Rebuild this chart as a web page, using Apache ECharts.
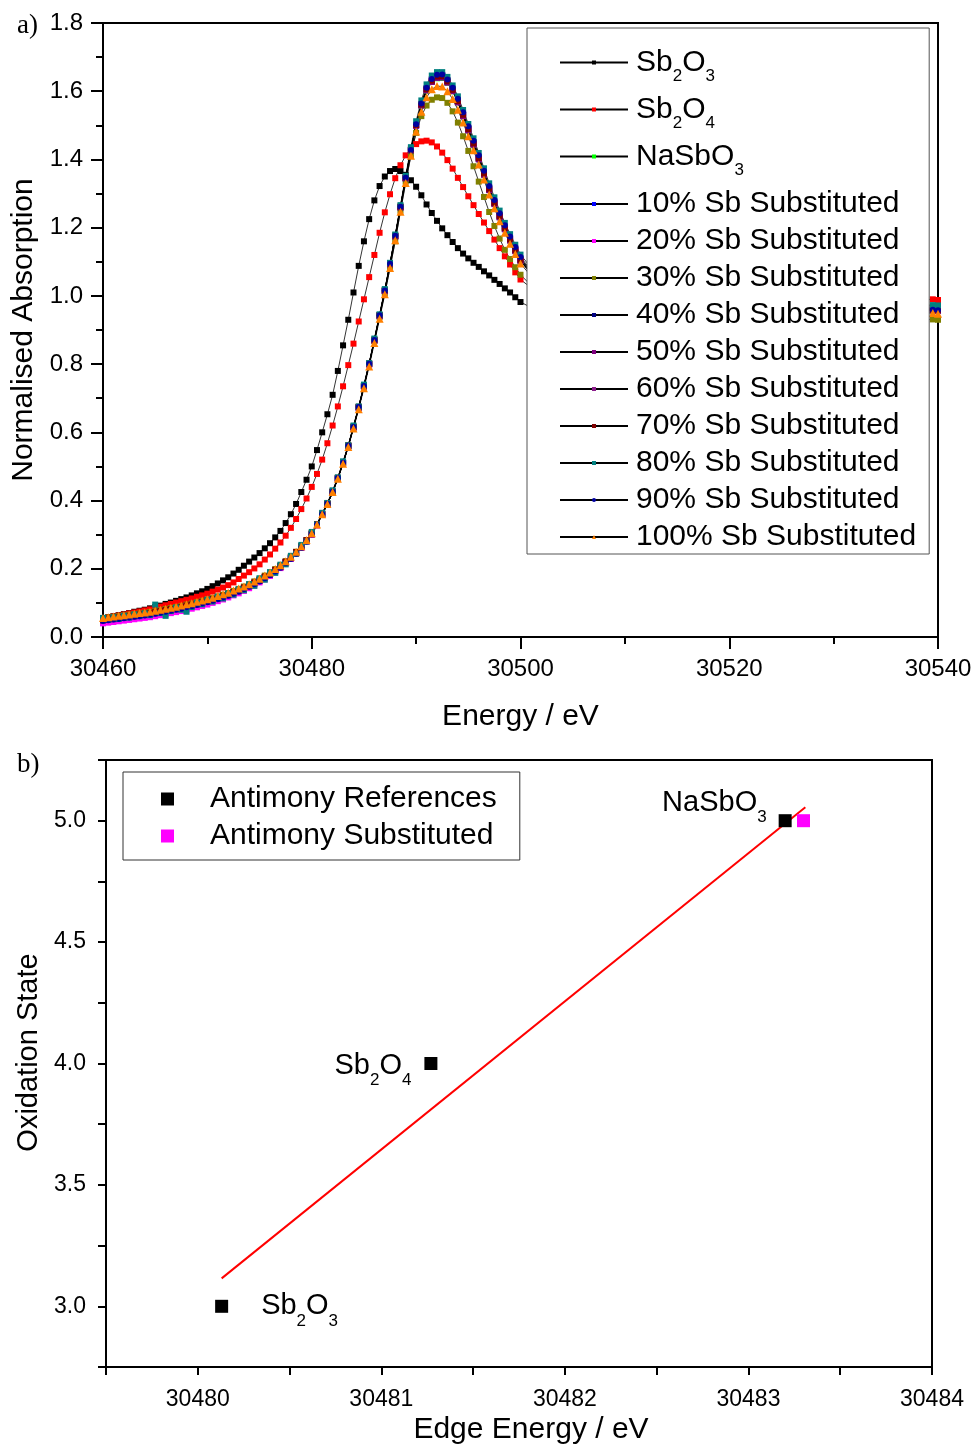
<!DOCTYPE html>
<html><head><meta charset="utf-8">
<script src="https://cdn.jsdelivr.net/npm/echarts@6/dist/echarts.min.js"></script>
<style>html,body{margin:0;padding:0;background:#fff}#c{width:976px;height:1447px}</style>
</head><body><div id="c"></div>
<script>
// ---------- Panel a: XANES spectra ----------
const energy = [
30460,30460.5,30461,30461.5,30462,30462.5,30463,30463.5,30464,30464.5,
30465,30465.5,30466,30466.5,30467,30467.5,30468,30468.5,30469,30469.5,
30470,30470.5,30471,30471.5,30472,30472.5,30473,30473.5,30474,30474.5,
30475,30475.5,30476,30476.5,30477,30477.5,30478,30478.5,30479,30479.5,
30480,30480.5,30481,30481.5,30482,30482.5,30483,30483.5,30484,30484.5,
30485,30485.5,30486,30486.5,30487,30487.5,30488,30488.5,30489,30489.5,
30490,30490.5,30491,30491.5,30492,30492.5,30493,30493.5,30494,30494.5,
30495,30495.5,30496,30496.5,30497,30497.5,30498,30498.5,30499,30499.5,
30500,30502,30505,30510,30515,30520,30525,30530,30535,30539.5,
30540];

const sb2o3 = [
0.055,0.058,0.061,0.064,0.067,0.070,0.074,0.077,0.080,0.084,
0.088,0.092,0.097,0.101,0.106,0.111,0.116,0.122,0.128,0.134,
0.141,0.149,0.157,0.166,0.175,0.186,0.197,0.209,0.221,0.233,
0.246,0.260,0.275,0.292,0.311,0.334,0.360,0.390,0.425,0.461,
0.500,0.548,0.600,0.653,0.710,0.780,0.855,0.930,1.010,1.088,
1.160,1.225,1.280,1.322,1.350,1.366,1.372,1.366,1.355,1.339,
1.320,1.295,1.268,1.243,1.220,1.198,1.178,1.158,1.140,1.124,
1.110,1.097,1.085,1.072,1.060,1.047,1.035,1.022,1.010,0.996,
0.982,0.950,0.920,0.895,0.890,0.895,0.900,0.900,null,null,
null];

const sb2o4 = [
0.055,0.057,0.060,0.063,0.066,0.069,0.072,0.075,0.078,0.081,
0.085,0.089,0.093,0.097,0.101,0.105,0.109,0.113,0.118,0.122,
0.127,0.133,0.139,0.145,0.152,0.160,0.170,0.180,0.190,0.201,
0.213,0.227,0.242,0.259,0.277,0.297,0.320,0.346,0.375,0.406,
0.440,0.478,0.520,0.568,0.620,0.676,0.735,0.797,0.860,0.925,
0.990,1.055,1.120,1.185,1.245,1.298,1.345,1.383,1.412,1.432,
1.445,1.453,1.455,1.450,1.438,1.420,1.398,1.373,1.346,1.319,
1.292,1.266,1.240,1.215,1.190,1.165,1.140,1.116,1.092,1.069,
1.048,1.000,0.960,0.950,0.955,0.965,0.975,0.980,0.985,0.990,
0.988];

const nasbo3 = [
0.051,0.053,0.055,0.057,0.059,0.061,0.063,0.065,0.067,0.069,
0.072,0.075,0.078,0.081,0.084,0.087,0.091,0.094,0.098,0.102,
0.106,0.110,0.115,0.120,0.125,0.131,0.137,0.144,0.151,0.159,
0.167,0.176,0.185,0.196,0.207,0.220,0.233,0.248,0.265,0.283,
0.303,0.330,0.361,0.391,0.426,0.466,0.511,0.561,0.616,0.674,
0.736,0.801,0.871,0.943,1.016,1.094,1.176,1.261,1.346,1.428,
1.500,1.558,1.602,1.627,1.638,1.639,1.625,1.600,1.568,1.528,
1.486,1.444,1.401,1.356,1.311,1.270,1.231,1.196,1.163,1.132,
1.103,1.028,0.973,0.948,0.953,0.963,0.968,0.963,0.958,0.957,
0.956];

const sub10 = [
0.049,0.051,0.053,0.055,0.057,0.059,0.061,0.063,0.065,0.067,
0.070,0.073,0.076,0.079,0.082,0.085,0.089,0.092,0.096,0.100,
0.104,0.108,0.113,0.118,0.123,0.129,0.135,0.142,0.149,0.157,
0.165,0.174,0.183,0.194,0.205,0.218,0.231,0.246,0.263,0.281,
0.301,0.328,0.359,0.389,0.424,0.464,0.509,0.559,0.614,0.672,
0.734,0.799,0.869,0.941,1.014,1.092,1.174,1.259,1.344,1.426,
1.501,1.562,1.608,1.634,1.646,1.647,1.632,1.607,1.574,1.534,
1.492,1.450,1.407,1.362,1.317,1.276,1.237,1.202,1.169,1.138,
1.109,1.033,0.978,0.953,0.957,0.967,0.972,0.967,0.962,0.961,
0.960];

const sub20 = [
0.040,0.042,0.044,0.046,0.048,0.050,0.052,0.054,0.056,0.058,
0.061,0.064,0.067,0.070,0.073,0.076,0.080,0.083,0.087,0.091,
0.095,0.100,0.105,0.110,0.116,0.122,0.128,0.135,0.143,0.151,
0.160,0.169,0.179,0.190,0.202,0.215,0.229,0.244,0.261,0.280,
0.300,0.327,0.358,0.389,0.424,0.464,0.509,0.559,0.614,0.672,
0.734,0.799,0.869,0.941,1.014,1.092,1.174,1.259,1.344,1.426,
1.499,1.559,1.604,1.629,1.641,1.642,1.627,1.602,1.569,1.529,
1.487,1.445,1.402,1.357,1.312,1.271,1.232,1.197,1.164,1.133,
1.104,1.029,0.974,0.949,0.954,0.964,0.969,0.964,0.959,0.958,
0.957];

const sub30 = [
0.055,0.057,0.059,0.061,0.063,0.065,0.067,0.069,0.071,0.073,
0.076,0.079,0.082,0.085,0.088,0.091,0.095,0.098,0.102,0.106,
0.110,0.114,0.119,0.124,0.129,0.135,0.141,0.148,0.155,0.163,
0.171,0.180,0.189,0.199,0.210,0.222,0.235,0.250,0.266,0.284,
0.304,0.330,0.360,0.390,0.425,0.465,0.510,0.560,0.615,0.673,
0.735,0.800,0.868,0.938,1.008,1.083,1.160,1.250,1.335,1.412,
1.478,1.527,1.558,1.575,1.582,1.580,1.566,1.541,1.508,1.468,
1.425,1.380,1.335,1.290,1.246,1.205,1.168,1.135,1.108,1.084,
1.062,1.000,0.955,0.930,0.930,0.935,0.940,0.935,0.932,0.931,
0.930];

const sub40 = [
0.050,0.052,0.054,0.056,0.058,0.060,0.062,0.064,0.066,0.068,
0.071,0.074,0.077,0.080,0.083,0.086,0.090,0.093,0.097,0.101,
0.105,0.109,0.114,0.119,0.124,0.130,0.136,0.143,0.150,0.158,
0.166,0.175,0.184,0.195,0.206,0.219,0.232,0.247,0.264,0.282,
0.302,0.329,0.360,0.390,0.425,0.465,0.510,0.560,0.615,0.673,
0.735,0.800,0.870,0.942,1.015,1.093,1.175,1.260,1.345,1.427,
1.500,1.560,1.605,1.630,1.642,1.643,1.628,1.603,1.570,1.530,
1.488,1.446,1.403,1.358,1.313,1.272,1.233,1.198,1.165,1.134,
1.105,1.030,0.975,0.950,0.955,0.965,0.970,0.965,0.960,0.960,
0.959];

const sub50 = [
0.048,0.050,0.052,0.054,0.056,0.058,0.060,0.062,0.064,0.066,
0.069,0.072,0.075,0.078,0.081,0.084,0.088,0.091,0.095,0.099,
0.103,0.107,0.112,0.117,0.122,0.128,0.134,0.141,0.148,0.156,
0.164,0.173,0.182,0.193,0.204,0.217,0.230,0.245,0.262,0.280,
0.300,0.328,0.359,0.390,0.425,0.465,0.510,0.560,0.615,0.673,
0.735,0.800,0.870,0.942,1.015,1.093,1.175,1.260,1.345,1.427,
1.499,1.558,1.602,1.627,1.639,1.640,1.625,1.600,1.567,1.527,
1.485,1.443,1.400,1.355,1.310,1.269,1.230,1.195,1.162,1.131,
1.102,1.027,0.972,0.948,0.953,0.963,0.968,0.963,0.958,0.957,
0.956];

const sub60 = [
0.051,0.053,0.055,0.057,0.059,0.061,0.063,0.065,0.067,0.069,
0.072,0.075,0.078,0.081,0.084,0.087,0.091,0.094,0.098,0.102,
0.106,0.110,0.115,0.120,0.125,0.131,0.137,0.144,0.151,0.159,
0.167,0.176,0.185,0.196,0.207,0.220,0.233,0.248,0.265,0.283,
0.303,0.330,0.361,0.391,0.426,0.466,0.511,0.561,0.616,0.674,
0.736,0.801,0.871,0.943,1.016,1.094,1.176,1.261,1.346,1.428,
1.502,1.563,1.609,1.635,1.647,1.648,1.633,1.608,1.575,1.535,
1.493,1.451,1.408,1.363,1.318,1.277,1.238,1.203,1.170,1.139,
1.110,1.034,0.979,0.954,0.958,0.968,0.973,0.968,0.963,0.962,
0.961];

const sub70 = [
0.052,0.054,0.056,0.058,0.060,0.062,0.064,0.066,0.068,0.070,
0.073,0.076,0.079,0.082,0.085,0.088,0.092,0.095,0.099,0.103,
0.107,0.111,0.116,0.121,0.126,0.132,0.138,0.145,0.152,0.160,
0.168,0.177,0.186,0.197,0.208,0.221,0.234,0.249,0.266,0.284,
0.304,0.331,0.362,0.392,0.427,0.467,0.512,0.562,0.617,0.675,
0.737,0.802,0.872,0.944,1.017,1.095,1.177,1.262,1.347,1.429,
1.501,1.561,1.606,1.631,1.643,1.644,1.629,1.604,1.571,1.531,
1.489,1.447,1.404,1.359,1.314,1.273,1.234,1.199,1.166,1.135,
1.106,1.031,0.976,0.951,0.956,0.966,0.971,0.966,0.961,0.960,
0.959];

const sub80 = [
0.056,0.050,0.058,0.053,0.062,0.057,0.066,0.061,0.069,0.064,
0.095,0.070,0.062,0.076,0.086,0.080,0.074,0.088,0.100,0.096,
0.109,0.104,0.118,0.113,0.128,0.124,0.140,0.137,0.155,0.150,
0.172,0.168,0.190,0.188,0.212,0.213,0.238,0.244,0.270,0.280,
0.308,0.330,0.364,0.393,0.430,0.468,0.515,0.562,0.620,0.676,
0.740,0.803,0.875,0.946,1.020,1.097,1.180,1.266,1.352,1.436,
1.512,1.573,1.620,1.646,1.656,1.656,1.642,1.617,1.585,1.545,
1.504,1.462,1.419,1.374,1.330,1.289,1.250,1.214,1.181,1.150,
1.121,1.045,0.990,0.965,0.968,0.975,0.978,0.973,0.970,0.973,
0.972];

const sub90 = [
0.047,0.049,0.051,0.053,0.055,0.057,0.059,0.061,0.063,0.065,
0.068,0.071,0.074,0.077,0.080,0.083,0.087,0.090,0.094,0.098,
0.102,0.106,0.111,0.116,0.121,0.127,0.133,0.140,0.147,0.155,
0.163,0.172,0.181,0.192,0.203,0.216,0.229,0.244,0.261,0.280,
0.301,0.329,0.360,0.391,0.426,0.466,0.511,0.561,0.616,0.674,
0.736,0.801,0.871,0.943,1.016,1.094,1.176,1.261,1.346,1.428,
1.503,1.564,1.610,1.636,1.648,1.649,1.634,1.610,1.578,1.538,
1.497,1.455,1.412,1.367,1.322,1.281,1.242,1.207,1.174,1.143,
1.114,1.038,0.983,0.958,0.960,0.968,0.972,0.966,0.961,0.959,
0.958];

const sub100 = [
0.056,0.058,0.060,0.062,0.064,0.066,0.068,0.070,0.072,0.074,
0.077,0.080,0.083,0.086,0.089,0.092,0.096,0.099,0.103,0.107,
0.111,0.115,0.120,0.125,0.130,0.136,0.142,0.148,0.155,0.163,
0.171,0.180,0.189,0.199,0.210,0.222,0.235,0.250,0.266,0.284,
0.304,0.330,0.360,0.390,0.425,0.464,0.508,0.557,0.611,0.668,
0.729,0.793,0.862,0.933,1.005,1.082,1.163,1.247,1.331,1.411,
1.482,1.540,1.582,1.606,1.615,1.614,1.600,1.577,1.546,1.508,
1.468,1.427,1.385,1.341,1.297,1.257,1.219,1.185,1.153,1.123,
1.095,1.022,0.968,0.944,0.948,0.957,0.961,0.955,0.950,0.950,
0.948];

const spectraNames = ['Sb2O3','Sb2O4','NaSbO3','10% Sb Substituted','20% Sb Substituted',
  '30% Sb Substituted','40% Sb Substituted','50% Sb Substituted','60% Sb Substituted',
  '70% Sb Substituted','80% Sb Substituted','90% Sb Substituted','100% Sb Substituted'];
const spectraValues = [sb2o3, sb2o4, nasbo3, sub10, sub20, sub30, sub40, sub50, sub60, sub70, sub80, sub90, sub100];

// ---------- Panel b: edge energy vs oxidation state ----------
const refEdge = [30480.13, 30481.27, 30483.20];
const refOxidation = [3, 4, 5];
const refNames = ['Sb2O3', 'Sb2O4', 'NaSbO3'];
const subEdge = [30483.30];
const subOxidation = [5];
const fitEdge = [30480.13, 30483.31];
const fitOxidation = [3.115, 5.055];

// ---------- styling ----------
const FONT = "'Liberation Sans', Arial, sans-serif";
const colors = ['#000000','#ff0000','#00ff00','#0000ff','#ff00ff','#808000','#000080',
  '#800080','#8b1c8b','#800000','#008080','#0000a0','#ff8000'];
const symbols = ['rect','rect','rect','rect','rect','rect','rect','rect','rect','rect','rect','circle','triangle'];
const symbolSizes = [6,6,6,6,6,6,6,6,6,6,6,6,8];

const richFormula = {
  'Sb2O3': '{f|Sb}{s|2}{m|O}{s|3}',
  'Sb2O4': '{f|Sb}{s|2}{m|O}{s|4}',
  'NaSbO3': '{f|NaSbO}{s|3}'
};

const chart = echarts.init(document.getElementById('c'), null, {renderer: 'canvas'});

const seriesA = spectraNames.map((n, k) => ({
  name: n, type: 'line', xAxisIndex: 0, yAxisIndex: 0,
  data: energy.map((e, i) => [e, spectraValues[k][i]]),
  symbol: symbols[k], symbolSize: symbolSizes[k], showSymbol: true,
  lineStyle: {color: '#000', width: 0.8},
  itemStyle: {color: colors[k]},
  emphasis: {disabled: true}, silent: true
}));

const labelPlacement = [
  {position: 'right', distance: 33, offset: [0, 0]},
  {position: 'left', distance: 13, offset: [0, 2]},
  {position: 'left', distance: 12, offset: [0, -18]}
];
const formulaB = {
  'Sb2O3': '{m|Sb}{s|2}{m|O}{s|3}',
  'Sb2O4': '{m|Sb}{s|2}{m|O}{s|4}',
  'NaSbO3': '{m|NaSbO}{s|3}'
};

const seriesB = [
  {
    name: 'fit', type: 'line', xAxisIndex: 1, yAxisIndex: 1,
    data: fitEdge.map((x, i) => [x, fitOxidation[i]]),
    showSymbol: false, lineStyle: {color: '#ff0000', width: 2}, silent: true, z: 1
  },
  {
    name: 'Antimony References', type: 'scatter', xAxisIndex: 1, yAxisIndex: 1,
    symbol: 'rect', symbolSize: 13, itemStyle: {color: '#000', opacity: 1},
    emphasis: {disabled: true}, silent: true,
    data: refEdge.map((x, i) => ({
      value: [x, refOxidation[i]],
      label: {
        show: true, position: labelPlacement[i].position, distance: labelPlacement[i].distance,
        offset: labelPlacement[i].offset, formatter: formulaB[refNames[i]], color: '#000', opacity: 1,
        rich: {
          m: {fontSize: 29, lineHeight: 30, fontFamily: FONT, color: '#000'},
          s: {fontSize: 17, lineHeight: 17, padding: [30, 0, 0, 0], fontFamily: FONT, color: '#000'}
        }
      }
    })), z: 3
  },
  {
    name: 'Antimony Substituted', type: 'scatter', xAxisIndex: 1, yAxisIndex: 1,
    symbol: 'rect', symbolSize: 13, itemStyle: {color: '#ff00ff', opacity: 1},
    emphasis: {disabled: true}, silent: true,
    data: subEdge.map((x, i) => [x, subOxidation[i]]), z: 3
  }
];

const axisCommon = {
  axisLine: {show: true, onZero: false, lineStyle: {color: '#000', width: 2}},
  splitLine: {show: false},
};

const option = {
  animation: false,
  textStyle: {fontFamily: FONT},
  grid: [
    {left: 103, top: 23, right: 38, bottom: 810, show: true, borderColor: '#000', borderWidth: 2, backgroundColor: 'transparent'},
    {left: 106, top: 760, right: 44, bottom: 80, show: true, borderColor: '#000', borderWidth: 2, backgroundColor: 'transparent'}
  ],
  xAxis: [
    Object.assign({
      type: 'value', gridIndex: 0, min: 30460, max: 30540, interval: 20,
      axisTick: {show: true, inside: false, length: 12, lineStyle: {color: '#000', width: 2}},
      minorTick: {show: true, splitNumber: 2, length: 7, lineStyle: {color: '#000', width: 2}},
      axisLabel: {fontSize: 24, color: '#000', margin: 20, fontFamily: FONT, formatter: v => String(Math.round(v))},
      name: 'Energy / eV', nameLocation: 'middle', nameGap: 65,
      nameTextStyle: {fontSize: 30, color: '#000', fontFamily: FONT}
    }, axisCommon),
    Object.assign({
      type: 'value', gridIndex: 1, min: 30479.5, max: 30484, interval: 0.5,
      axisTick: {show: true, inside: false, length: 8, lineStyle: {color: '#000', width: 2}},
      axisLabel: {fontSize: 23, color: '#000', margin: 21, fontFamily: FONT, showMinLabel: true,
        formatter: v => Math.abs(v - Math.round(v)) < 1e-6 ? String(Math.round(v)) : ''},
      name: 'Edge Energy / eV', nameLocation: 'middle', nameGap: 48,
      nameTextStyle: {fontSize: 30, color: '#000', fontFamily: FONT, padding: [0, 0, 0, 24]}
    }, axisCommon)
  ],
  yAxis: [
    Object.assign({
      type: 'value', gridIndex: 0, min: 0, max: 1.8, interval: 0.2,
      axisTick: {show: true, inside: false, length: 12, lineStyle: {color: '#000', width: 2}},
      minorTick: {show: true, splitNumber: 2, length: 7, lineStyle: {color: '#000', width: 2}},
      axisLabel: {fontSize: 24, color: '#000', margin: 20, fontFamily: FONT, formatter: v => v.toFixed(1)},
      name: 'Normalised Absorption', nameLocation: 'middle', nameGap: 58,
      nameTextStyle: {fontSize: 30, color: '#000', fontFamily: FONT}
    }, axisCommon),
    Object.assign({
      type: 'value', gridIndex: 1, min: 2.75, max: 5.25, interval: 0.25,
      axisTick: {show: true, inside: false, length: 8, lineStyle: {color: '#000', width: 2}},
      axisLabel: {fontSize: 23, color: '#000', margin: 20, fontFamily: FONT,
        formatter: v => Math.abs(v * 2 - Math.round(v * 2)) < 1e-6 ? v.toFixed(1) : ''},
      name: 'Oxidation State', nameLocation: 'middle', nameGap: 62,
      nameTextStyle: {fontSize: 29, color: '#000', fontFamily: FONT, padding: [0, 0, 0, 22]}
    }, axisCommon)
  ],
  legend: [
    { // regular items + white box
      orient: 'vertical', left: 527, top: 28, padding: [161, 13, 2, 32],
      itemGap: 7, itemWidth: 68, itemHeight: 5, selectedMode: false,
      backgroundColor: '#fff', borderColor: '#555', borderWidth: 1, z: 4,
      data: spectraNames.slice(3),
      formatter: n => '{r|' + n + '}',
      textStyle: {rich: {r: {fontSize: 30, lineHeight: 30, padding: [0, 0, 0, 3], color: '#000', fontFamily: FONT}}}
    },
    { // formula items with subscripts
      orient: 'vertical', left: 527, top: 40, padding: [0, 0, 0, 32],
      itemGap: 2, itemWidth: 68, itemHeight: 5, selectedMode: false,
      backgroundColor: 'transparent', z: 5,
      data: spectraNames.slice(0, 3),
      formatter: n => richFormula[n],
      textStyle: {rich: {
        f: {fontSize: 30, lineHeight: 46, padding: [0, 0, 0, 3], color: '#000', fontFamily: FONT},
        m: {fontSize: 30, lineHeight: 46, color: '#000', fontFamily: FONT},
        s: {fontSize: 17, lineHeight: 17, padding: [28, 0, 0, 0], color: '#000', fontFamily: FONT}
      }}
    },
    { // panel b legend
      orient: 'vertical', left: 123, top: 772, padding: [12, 23, 9, 38],
      itemGap: 7, itemWidth: 13, itemHeight: 13, selectedMode: false,
      backgroundColor: '#fff', borderColor: '#333', borderWidth: 1,
      data: ['Antimony References', 'Antimony Substituted'],
      formatter: n => '{t|' + n + '}',
      textStyle: {rich: {t: {fontSize: 30, lineHeight: 30, padding: [0, 0, 0, 31], color: '#000', fontFamily: FONT}}}
    }
  ],
  graphic: [
    {type: 'text', left: 17, top: 12, style: {text: 'a)', font: "27px 'Liberation Serif', 'Times New Roman', serif", fill: '#000'}},
    {type: 'text', left: 17, top: 751, style: {text: 'b)', font: "27px 'Liberation Serif', 'Times New Roman', serif", fill: '#000'}}
  ],
  series: seriesA.concat(seriesB)
};
chart.setOption(option);
</script></body></html>
